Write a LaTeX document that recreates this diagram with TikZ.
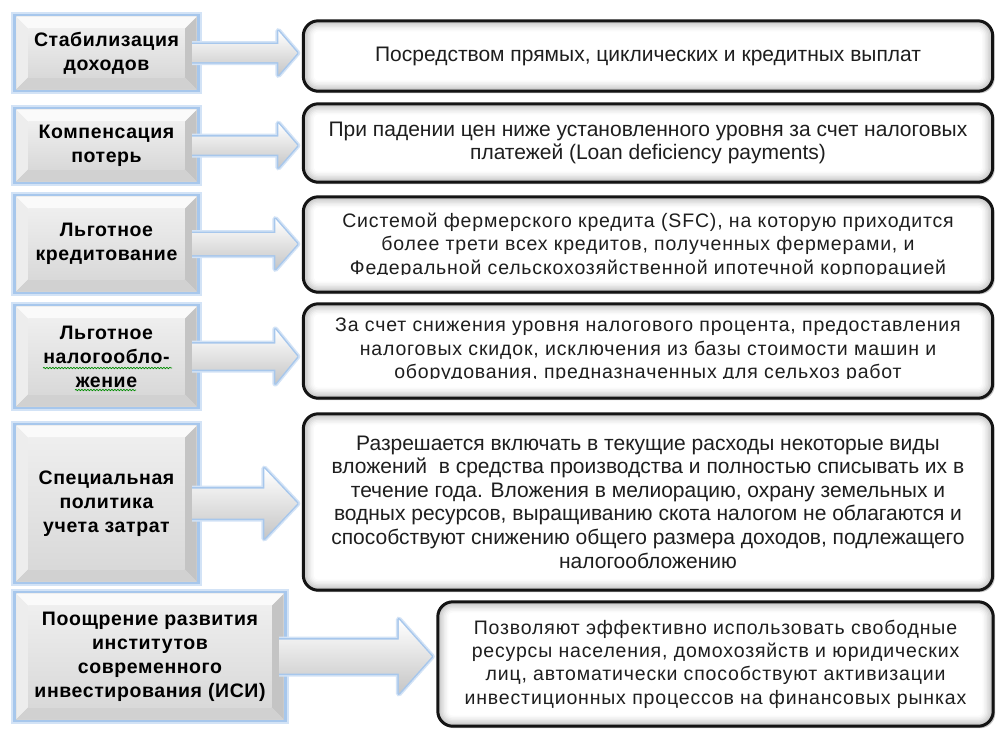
\documentclass[tikz,border=0pt]{standalone}
\usepackage{fontspec}
\setmainfont{Liberation Sans}
\newfontfamily\spacedfont[LetterSpace=4.3]{Liberation Sans}
\newfontfamily\boldspaced[LetterSpace=3]{Liberation Sans Bold}
\usetikzlibrary{backgrounds,calc,decorations.pathmorphing}
\definecolor{glowblue}{HTML}{A7C7EC}
\definecolor{glowblue2}{HTML}{D3E3F6}
\definecolor{txt}{HTML}{1E1E1E}
\tikzset{
  lbox/.style={rectangle, inner sep=0pt, align=center, text=black,
    font=\boldspaced\fontsize{19.5}{24}\selectfont},
  rbox/.style={rectangle, inner sep=0pt, align=center, text=txt},
  rplain/.style={font=\fontsize{21}{23.6}\selectfont},
  rwide/.style={font=\spacedfont\fontsize{19.5}{23.3}\selectfont},
  spell/.style={draw=green!55!black, line width=0.7pt,
    decorate, decoration={snake, segment length=3pt, amplitude=0.7pt}},
}
% bevelled grey box with blue glow
\newcommand\bevelbg[1]{%
  \begin{scope}[on background layer]
    \draw[glowblue2, line width=7pt] (#1.north west) rectangle (#1.south east);
    \draw[glowblue, line width=3.5pt] (#1.north west) rectangle (#1.south east);
    \coordinate (nw) at ($(#1.north west)+(1.5pt,-1.5pt)$);
    \coordinate (ne) at ($(#1.north east)+(-1.5pt,-1.5pt)$);
    \coordinate (sw) at ($(#1.south west)+(1.5pt,1.5pt)$);
    \coordinate (se) at ($(#1.south east)+(-1.5pt,1.5pt)$);
    \coordinate (inw) at ($(nw)+(12pt,-12pt)$);
    \coordinate (ine) at ($(ne)+(-12pt,-12pt)$);
    \coordinate (isw) at ($(sw)+(12pt,12pt)$);
    \coordinate (ise) at ($(se)+(-12pt,12pt)$);
    \shade[top color=gray!14, bottom color=gray!34] (nw) rectangle (se);
    \fill[gray!4] (nw) -- (ne) -- (ine) -- (inw) -- cycle;
    \fill[gray!14] (nw) -- (inw) -- (isw) -- (sw) -- cycle;
    \fill[gray!46] (ne) -- (se) -- (ise) -- (ine) -- cycle;
    \fill[gray!36] (sw) -- (isw) -- (ise) -- (se) -- cycle;
    \shade[top color=gray!13, bottom color=gray!30] (inw) rectangle (ise);
  \end{scope}}
% rounded box with inner shadow
\newcommand\roundbg[1]{%
  \begin{scope}[on background layer]
    \fill[gray!45, rounded corners=15pt] ($(#1.south west)+(2pt,-2pt)$) rectangle ($(#1.north east)+(2pt,-2pt)$);
    \fill[gray!48, rounded corners=15pt] (#1.south west) rectangle (#1.north east);
    \foreach \i/\c in {1.5/38,3/30,4.5/22,6/15,7.5/9,9/4,10.5/0}{
      \fill[gray!\c, rounded corners=15pt-\i pt]
        ($(#1.south west)+(\i pt,\i pt)$) rectangle ($(#1.north east)+(-\i pt,-\i pt)$);}
    \draw[black!92, line width=3pt, rounded corners=15pt] (#1.south west) rectangle (#1.north east);
  \end{scope}}
% block arrow from left box to right box
\newcommand\blockarrow[5]{% from, to, shaft half, head half, head length
  \begin{scope}[on background layer]
  \path let \p1=(#1.east), \p2=(#2.west) in
    coordinate (s1) at (\x1-6pt,\y1+#3pt)
    coordinate (s2) at (\x2-#5pt-6pt,\y1+#3pt)
    coordinate (h1) at (\x2-#5pt-6pt,\y1+#4pt)
    coordinate (tp) at (\x2-6pt,\y1)
    coordinate (h2) at (\x2-#5pt-6pt,\y1-#4pt)
    coordinate (s3) at (\x2-#5pt-6pt,\y1-#3pt)
    coordinate (s4) at (\x1-6pt,\y1-#3pt);
  \draw[glowblue2, line width=6pt, line join=round] (s1) -- (s2) -- (h1) -- (tp) -- (h2) -- (s3) -- (s4);
  \draw[glowblue, line width=3pt, line join=round] (s1) -- (s2) -- (h1) -- (tp) -- (h2) -- (s3) -- (s4);
  \shade[top color=white, middle color=white!96!gray, bottom color=gray!45, line join=round]
    (s1) -- (s2) -- (h1) -- (tp) -- (h2) -- (s3) -- (s4) -- cycle;
  \end{scope}}

\begin{document}
\begin{tikzpicture}[x=1pt,y=-1pt]
\useasboundingbox (0,0) rectangle (1008,737);
\begin{scope}[on background layer]
  \fill[white] (0,0) rectangle (1008,737);
\end{scope}

% left boxes
\node[lbox, minimum width=183pt, minimum height=75pt] (l1) at (106.5,53) {Стабилизация\\доходов};
\node[lbox, minimum width=183pt, minimum height=74pt] (l2) at (106.5,145.5) {Компенсация\\потерь};
\node[lbox, minimum width=183pt, minimum height=97pt] (l3) at (106.5,244) {Льготное\\кредитование};
\node[lbox, minimum width=183pt, minimum height=102pt] (l4) at (106.5,356.5) {Льготное\\налогообло-\\жение};
\node[lbox, minimum width=183pt, minimum height=158pt] (l5) at (106.5,503.5) {Специальная\\политика\\учета затрат};
\node[lbox, minimum width=270pt, minimum height=128pt] (l6) at (150,656.5) {Поощрение развития\\институтов\\современного\\инвестирования (ИСИ)};

% right boxes
\node[rbox, rplain, minimum width=689pt, minimum height=70pt] (r1) at (648,56) {Посредством прямых, циклических и кредитных выплат};
\node[rbox, rplain, minimum width=689pt, minimum height=78pt] (r2) at (648,143) {При падении цен ниже установленного уровня за счет налоговых\\платежей (Loan deficiency payments)};
\node[rbox, minimum width=689pt, minimum height=95pt] (r3) at (648,244.5) {};
\node[rbox, minimum width=689pt, minimum height=94pt] (r4) at (648,351) {};
\node[rbox, rplain, minimum width=689pt, minimum height=176pt] (r5) at (648,502) {Разрешается включать в текущие расходы некоторые виды\\вложений~ в средства производства и полностью списывать их в\\течение года. Вложения в мелиорацию, охрану земельных и\\водных ресурсов, выращиванию скота налогом не облагаются и\\способствуют снижению общего размера доходов, подлежащего\\налогообложению};
\node[rbox, rwide, minimum width=555pt, minimum height=124pt] (r6) at (715.5,664) {Позволяют эффективно использовать свободные\\ресурсы населения, домохозяйств и юридических\\лиц, автоматически способствуют активизации\\инвестиционных процессов на финансовых рынках};

\begin{scope}
  \clip (300,200) rectangle (1000,274.5);
  \node[rbox, rwide] (t3) at (648,245.5) {Системой фермерского кредита (SFC), на которую приходится\\более трети всех кредитов, полученных фермерами, и\\Федеральной сельскохозяйственной ипотечной корпорацией};
\end{scope}
\begin{scope}
  \clip (300,308) rectangle (1000,378.5);
  \node[rbox, rwide] (t4) at (648,350.5) {За счет снижения уровня налогового процента, предоставления\\налоговых скидок, исключения из базы стоимости машин и\\оборудования, предназначенных для сельхоз работ};
\end{scope}

\foreach \n in {l1,l2,l3,l4,l5,l6}{\bevelbg{\n}}
\foreach \n in {r1,r2,r3,r4,r5,r6}{\roundbg{\n}}

\blockarrow{l1}{r1}{9}{22}{19}
\blockarrow{l2}{r2}{9}{22}{19}
\blockarrow{l3}{r3}{11}{25}{22}
\blockarrow{l4}{r4}{13}{27}{22}
\blockarrow{l5}{r5}{15}{35}{33}
\blockarrow{l6}{r6}{17}{37}{33}

% spell-check underlines
\draw[spell] (43,368) -- (172,368);
\draw[spell] (75,390) -- (136,390);
\end{tikzpicture}
\end{document}
